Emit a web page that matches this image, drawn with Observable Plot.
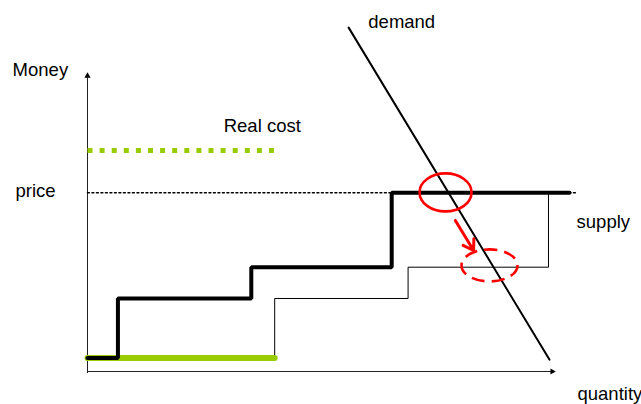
<!DOCTYPE html>
<html>
<head>
<meta charset="utf-8">
<script src="https://cdn.jsdelivr.net/npm/d3@7"></script>
<script src="https://cdn.jsdelivr.net/npm/@observablehq/plot@0.6"></script>
<style>
  html, body { margin: 0; padding: 0; background: #fff; }
  #chart svg { display: block; }
</style>
</head>
<body>
<div id="chart"></div>
<script>
// ---- data (quantity on x, money on y, abstract units) ----
const supplyQ = [0, 6.5, 35, 65, 103];        // thick supply step edges
const supplyP = [4.5, 24.5, 35, 60, 60];
const supply2Q = [0, 40, 68.5, 98.5];         // thin (shifted) supply
const supply2P = [4.5, 24.5, 35, 60];
const demandQ = [55.8, 98.7];
const demandP = [115.4, 4.0];
const priceLevel = 60;
const priceQ = [0, 104.3];
const realCostLevel = 74.2;
const realCostQ = [0, 40];
const baseCostLevel = 4.5;
const baseCostQ = [0, 40];
const circleQ = [76.5];   const circleP = [60.1];   // solid red ellipse
const dashedQ = [85.9];   const dashedP = [35.6];   // dashed red ellipse
const arrowQ = [78.6, 82.5];
const arrowP = [50.7, 40.6];
const labelText = ["Money", "price", "Real cost", "demand", "supply", "quantity"];
const labelQ = [-16.0, -15.4, 29.1, 60.0, 104.5, 104.7];
const labelP = [99.0, 58.7, 80.5, 115.4, 48.3, -9.7];

// ---- helpers ----
const zip = (xs, ys) => xs.map((x, i) => ({x, y: ys[i]}));
function ellipseSymbol(rx, ry) {
  const k = 0.5523;
  return {
    draw(ctx) {
      const kx = rx * k, ky = ry * k;
      ctx.moveTo(rx, 0);
      ctx.bezierCurveTo(rx, ky, kx, ry, 0, ry);
      ctx.bezierCurveTo(-kx, ry, -rx, ky, -rx, 0);
      ctx.bezierCurveTo(-rx, -ky, -kx, -ry, 0, -ry);
      ctx.bezierCurveTo(kx, -ry, rx, -ky, rx, 0);
      ctx.closePath();
    }
  };
}
const green = "#99cc00";
const red = "#ff0000";

const chart = Plot.plot({
  width: 641,
  height: 404,
  marginLeft: 87,
  marginRight: 86,
  marginTop: 73,
  marginBottom: 33,
  x: {domain: [0, 100], axis: null},
  y: {domain: [0, 100], axis: null},
  style: {fontFamily: "'Liberation Sans', Arial, sans-serif", fontSize: "18.5px", color: "#000", background: "#fff"},
  marks: [
    // axes
    Plot.ruleY([0], {x1: 0, x2: 99.2, stroke: "#222", strokeWidth: 1}),
    Plot.ruleX([0], {y1: -0.7, y2: 98.5, stroke: "#222", strokeWidth: 1}),
    Plot.dot([{x: 99.3, y: 0}], {x: "x", y: "y", symbol: "triangle", r: 2.3, fill: "#000", stroke: null, rotate: 90}),
    Plot.dot([{x: 0, y: 99.2}], {x: "x", y: "y", symbol: "triangle", r: 2.3, fill: "#000", stroke: null}),
    // price dotted line
    Plot.line(priceQ.map(q => ({x: q, y: priceLevel})), {x: "x", y: "y", stroke: "#000", strokeWidth: 1.6, strokeDasharray: "1.8,2.7"}),
    // real cost (dotted green)
    Plot.line(realCostQ.map(q => ({x: q, y: realCostLevel})), {x: "x", y: "y", stroke: green, strokeWidth: 5, strokeDasharray: "5,7.1", strokeLinecap: "butt"}),
    // thin shifted supply
    Plot.line(zip(supply2Q, supply2P), {x: "x", y: "y", curve: "step-after", stroke: "#000", strokeWidth: 1}),
    // base cost (solid green)
    Plot.line(baseCostQ.map(q => ({x: q, y: baseCostLevel})), {x: "x", y: "y", stroke: green, strokeWidth: 6}),
    // thick supply
    Plot.line(zip(supplyQ, supplyP), {x: "x", y: "y", curve: "step-after", stroke: "#000", strokeWidth: 4, strokeLinejoin: "miter"}),
    // demand
    Plot.line(zip(demandQ, demandP), {x: "x", y: "y", stroke: "#000", strokeWidth: 2}),
    // red ellipses
    Plot.dot(zip(circleQ, circleP), {x: "x", y: "y", symbol: ellipseSymbol(26, 19), stroke: red, strokeWidth: 2.6, fill: "none"}),
    Plot.dot(zip(dashedQ, dashedP), {x: "x", y: "y", symbol: ellipseSymbol(28, 16), stroke: red, strokeWidth: 2.6, fill: "none", strokeDasharray: "13,7"}),
    // red arrow
    Plot.arrow([{x1: arrowQ[0], y1: arrowP[0], x2: arrowQ[1], y2: arrowP[1]}], {x1: "x1", y1: "y1", x2: "x2", y2: "y2", stroke: red, strokeWidth: 3, headLength: 13, headAngle: 65}),
    // labels
    Plot.text(labelText.map((t, i) => ({t, x: labelQ[i], y: labelP[i]})), {x: "x", y: "y", text: "t", textAnchor: "start", lineAnchor: "bottom", fill: "#000", fontSize: 18.5})
  ]
});
chart.setAttribute("overflow", "visible");
document.getElementById("chart").append(chart);
</script>
</body>
</html>
